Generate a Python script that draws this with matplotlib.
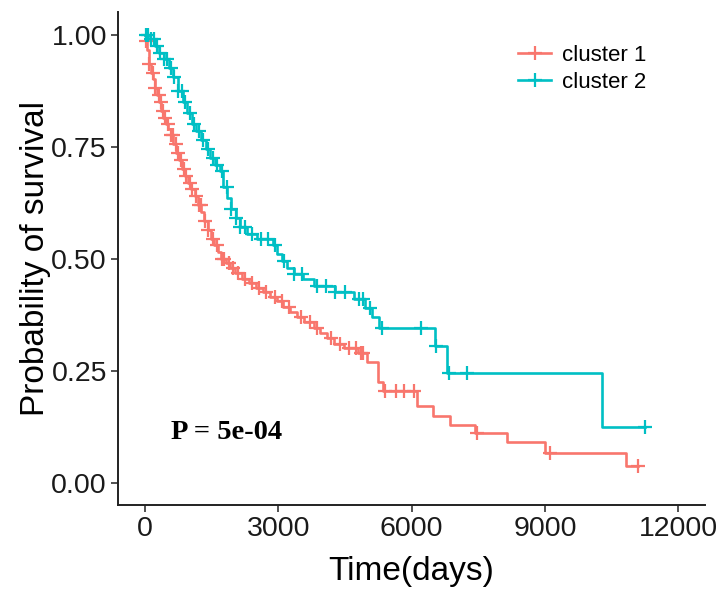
import matplotlib
matplotlib.use("Agg")
import matplotlib.pyplot as plt
import numpy as np
from matplotlib.lines import Line2D

# Kaplan-Meier steps (time in days, survival)
c1_time = [0, 31, 62, 94, 135, 177, 229, 270, 312, 364, 416, 468, 520, 582,
           645, 707, 770, 832, 905, 978, 1050, 1123, 1196, 1269, 1342, 1414,
           1487, 1560, 1643, 1726, 1820, 1924, 2028, 2184, 2340, 2496, 2652,
           2808, 2964, 3120, 3276, 3432, 3588, 3796, 3952, 4108, 4264, 4472,
           4784, 4992, 5245, 5350, 6123, 6484, 6866, 7429, 8150, 9005, 10828]
c1_surv = [1.0, 0.985, 0.965, 0.935, 0.915, 0.90, 0.88, 0.865, 0.85, 0.83,
           0.815, 0.80, 0.79, 0.775, 0.755, 0.735, 0.72, 0.70, 0.685, 0.67,
           0.655, 0.64, 0.62, 0.605, 0.585, 0.565, 0.545, 0.53, 0.515, 0.50,
           0.49, 0.48, 0.468, 0.455, 0.445, 0.435, 0.425, 0.415, 0.405, 0.392,
           0.38, 0.37, 0.358, 0.345, 0.335, 0.322, 0.31, 0.30, 0.29, 0.27,
           0.225, 0.205, 0.172, 0.148, 0.128, 0.11, 0.09, 0.067, 0.038]
c1_end = 11100
c1_censor = [40, 103, 176, 238, 311, 363, 415, 467, 519, 582, 634, 696, 748,
             810, 873, 935, 1008, 1060, 1143, 1216, 1268, 1351, 1424, 1528,
             1632, 1736, 1788, 1892, 1996, 2100, 2256, 2412, 2568, 2724, 2932,
             3088, 3244, 3504, 3712, 3868, 4180, 4388, 4596, 4752, 4856, 4908,
             5400, 5640, 5840, 6060, 7480, 9120, 11100]

c2_time = [0, 124, 228, 332, 436, 540, 644, 748, 852, 956, 1060, 1164, 1268,
           1372, 1476, 1580, 1684, 1767, 1850, 1934, 2048, 2152, 2308, 2516,
           2880, 2984, 3088, 3192, 3348, 3556, 3816, 4284, 4700, 4960, 5116,
           5272, 6530, 6790, 10288]
c2_surv = [1.0, 0.99, 0.975, 0.96, 0.945, 0.925, 0.905, 0.875, 0.85, 0.825,
           0.80, 0.785, 0.765, 0.745, 0.725, 0.71, 0.695, 0.66, 0.635, 0.61,
           0.59, 0.57, 0.555, 0.543, 0.53, 0.51, 0.495, 0.48, 0.465, 0.455,
           0.44, 0.425, 0.41, 0.39, 0.37, 0.345, 0.305, 0.245, 0.125]
c2_end = 11256
c2_censor = [20, 72, 145, 207, 280, 353, 436, 509, 592, 665, 748, 831, 904,
             1008, 1112, 1216, 1320, 1424, 1528, 1632, 1736, 1840, 1944, 2048,
             2152, 2256, 2412, 2620, 2776, 2932, 3140, 3348, 3546, 3868, 4076,
             4284, 4492, 4825, 4908, 5064, 5324, 6210, 6550, 6850, 7250, 11256]

p_text = "P = 5e-04"
x_ticks = [0, 3000, 6000, 9000, 12000]
y_ticks = [0.0, 0.25, 0.5, 0.75, 1.0]

red = "#F8766D"
teal = "#00BFC4"
sans = ["Liberation Sans", "DejaVu Sans"]


def surv_at(times, surv, t):
    idx = np.searchsorted(times, t, side="right") - 1
    return np.asarray(surv)[idx]


fig = plt.figure(figsize=(7.24, 6.02), dpi=100)
ax = fig.add_axes([0.163, 0.161, 0.811, 0.8186])

for times, surv, end, cens, col in [
        (c1_time, c1_surv, c1_end, c1_censor, red),
        (c2_time, c2_surv, c2_end, c2_censor, teal)]:
    tx = list(times) + [end]
    sy = list(surv) + [surv[-1]]
    ax.step(tx, sy, where="post", color=col, lw=1.9, zorder=2)
    ax.plot(cens, surv_at(times, surv, cens), "+", color=col,
            ms=10, mew=1.6, zorder=3)

ax.set_xlim(-600, 12600)
ax.set_ylim(-0.05, 1.05)
ax.set_xticks(x_ticks)
ax.set_xticklabels([str(v) for v in x_ticks])
ax.set_yticks(y_ticks)
ax.set_yticklabels([f"{v:.2f}" for v in y_ticks])

for side in ["top", "right"]:
    ax.spines[side].set_visible(False)
for side in ["left", "bottom"]:
    ax.spines[side].set_linewidth(1.4)
    ax.spines[side].set_color("#222222")
ax.tick_params(length=5, width=1.2, color="#333333", labelsize=20.5,
               labelcolor="#1a1a1a", pad=3)
for lbl in ax.get_xticklabels() + ax.get_yticklabels():
    lbl.set_family(sans)

ax.set_xlabel("Time(days)", fontsize=24, family=sans, labelpad=10)
ax.set_ylabel("Probability of survival", fontsize=24, family=sans, labelpad=0)

ax.text(1846, 0.112, p_text, ha="center", va="center", fontsize=20.5,
        fontweight="bold", family=["Liberation Serif", "DejaVu Serif"])

handles = [Line2D([0], [0], color=red, lw=1.9, marker="+", ms=10, mew=1.6),
           Line2D([0], [0], color=teal, lw=1.9, marker="+", ms=10, mew=1.6)]
ax.legend(handles, ["cluster 1", "cluster 2"], loc="upper left",
          bbox_to_anchor=(0.647, 0.975), frameon=False,
          prop={"family": sans, "size": 16}, handlelength=1.5,
          handletextpad=0.5, labelspacing=0.3)

fig.savefig("out.png", dpi=100)
